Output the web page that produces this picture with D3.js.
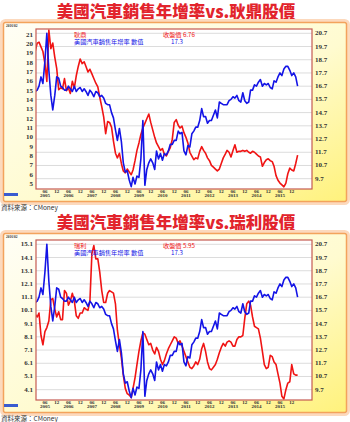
<!DOCTYPE html>
<html>
<head>
<meta charset="utf-8">
<script src="https://cdn.jsdelivr.net/npm/d3@7"></script>
<style>
  body { margin: 0; background: #fff; }
  svg { display: block; }
  .axis-num { font-family: "Liberation Serif", "DejaVu Serif", serif; font-weight: bold; fill: #333; }
  .cjk { font-family: "Noto Sans CJK TC", "Noto Sans CJK SC", sans-serif; }
</style>
</head>
<body>
<svg id="chart" width="350" height="422"></svg>
<script>
// monthly data, 2005-01 .. 2016-03
const startYear = 2005;

// US light vehicle sales (SAAR, millions) - blue, right axis
const carSales = [
  16.3, 16.4, 16.7, 17.4, 16.9, 18.6, 20.7, 17.9, 16.0, 14.9, 16.0, 17.4,
  17.3, 16.7, 16.6, 16.4, 16.4, 16.7, 16.5, 16.3, 16.7, 16.3, 16.5, 16.6,
  16.3, 16.5, 16.3, 16.0, 16.4, 16.2, 15.9, 16.3, 16.2, 15.9, 16.0, 15.8,
  15.4, 15.3, 15.3, 14.7, 14.3, 13.4, 12.6, 13.5, 12.5, 10.9, 10.2, 10.3,
  9.6, 9.1, 9.8, 9.3, 9.9, 9.8, 11.2, 14.1, 9.2, 10.4, 10.9, 11.2,
  10.9, 10.4, 11.8, 11.2, 11.6, 11.1, 11.6, 11.5, 11.8, 12.3, 12.3, 12.6,
  12.6, 13.3, 13.1, 13.2, 11.8, 11.5, 12.2, 12.1, 13.1, 13.3, 13.6, 13.6,
  14.1, 15.0, 14.4, 14.4, 13.9, 14.1, 14.1, 14.5, 14.9, 14.3, 15.5, 15.4,
  15.3, 15.3, 15.3, 15.6, 15.7, 15.9, 15.8, 16.0, 15.6, 15.5, 16.2, 15.6,
  15.4, 15.5, 16.4, 16.4, 16.8, 16.7, 17.0, 17.2, 16.7, 16.9, 16.8, 16.9,
  16.6, 16.5, 17.1, 17.0, 17.4, 17.7, 17.5, 18.0, 18.2, 18.2, 17.9, 17.5,
  17.7, 17.4, 16.7
];

// 耿鼎 close - red, left axis of top chart
const gengDing = [
  19.2, 20.1, 20.2, 19.7, 19.2, 17.9, 16.0, 21.5, 19.5, 20.1, 18.6, 17.4,
  15.1, 15.3, 15.2, 16.3, 15.0, 15.3, 14.7, 16.0, 15.3, 16.6, 17.6, 18.4,
  17.9, 18.1, 17.6, 17.0, 17.3, 16.8, 16.3, 15.8, 15.4, 14.3, 13.3, 12.2,
  10.4, 11.7, 11.6, 11.1, 9.6, 8.3, 7.8, 8.3, 7.2, 6.4, 6.2, 6.6,
  6.3, 6.0, 6.5, 7.5, 8.6, 9.4, 10.3, 11.0, 11.5, 12.0, 12.5, 11.6,
  10.8, 10.0, 9.4, 9.0, 8.6, 8.8, 8.2, 8.0, 8.5, 8.9, 9.8, 11.6,
  11.9, 11.3, 11.0, 11.2, 10.5, 10.0, 9.4, 8.4, 8.0, 7.6, 7.8, 7.7,
  8.5, 9.0, 8.6, 8.3, 7.8, 7.5, 7.0, 6.8, 6.6, 6.4, 6.6, 7.2,
  7.8, 8.2, 8.6, 8.4, 7.9, 8.6, 9.2, 8.4, 8.5, 8.5, 8.6, 8.5,
  8.6, 8.4, 8.3, 8.5, 8.4, 8.2, 8.0, 7.9, 6.9, 7.3, 7.6, 7.7,
  7.5, 7.4, 6.9, 5.9, 5.4, 5.1, 4.9, 4.7, 5.1, 6.1, 6.7, 6.5,
  6.4, 7.2, 8.1
];

// 瑞利 close - red, left axis of bottom chart
const ruiLi = [
  9.8, 9.6, 9.9, 8.2, 7.5, 8.5, 8.8, 9.3, 10.9, 11.0, 10.2, 9.6,
  10.0, 9.4, 9.4, 11.6, 11.4, 10.5, 10.8, 11.4, 10.8, 9.7, 9.5, 9.9,
  9.9, 10.3, 10.2, 10.1, 10.8, 14.4, 15.0, 14.0, 14.0, 13.0, 11.6, 10.7,
  10.7, 11.4, 11.6, 11.5, 11.4, 10.6, 8.6, 7.5, 6.5, 5.2, 4.2, 3.8,
  3.7, 3.5, 4.2, 5.0, 6.0, 7.0, 7.8, 8.4, 8.3, 7.9, 7.5, 7.6,
  7.1, 6.8, 7.3, 7.0, 6.4, 6.0, 6.3, 6.8, 7.2, 7.5, 7.8, 8.1,
  8.0, 7.6, 7.8, 7.4, 7.0, 6.6, 6.2, 5.8, 5.7, 5.9, 6.2, 6.0,
  6.4, 7.2, 7.6, 7.0, 6.2, 5.7, 5.6, 5.8, 6.0, 6.4, 6.9, 7.3,
  7.6, 7.4, 7.7, 7.8, 7.7, 7.4, 7.4, 7.9, 8.1, 8.1, 8.2, 9.5,
  10.6, 10.8, 10.5, 9.6, 8.9, 8.8, 8.7, 8.0, 7.0, 6.0, 5.7, 5.8,
  6.7, 6.6, 6.2, 6.0, 5.3, 4.6, 3.6, 3.4, 4.1, 4.6, 4.7, 6.0,
  5.3, 5.2, 5.2
];

const leftTicksTop = d3.range(21, 4, -1);
const leftTicksBottom = [15.1, 14.1, 13.1, 12.1, 11.1, 10.1, 9.1, 8.1, 7.1, 6.1, 5.1, 4.1];
const rightTicks = [20.7, 19.7, 18.7, 17.7, 16.7, 15.7, 14.7, 13.7, 12.7, 11.7, 10.7, 9.7];
const tickYears = d3.range(2005, 2016);

const RED = '#f01414';
const BLUE = '#1414e6';

const svg = d3.select('#chart');
const defs = svg.append('defs');

const grad = defs.append('linearGradient')
  .attr('id', 'panel-bg')
  .attr('x1', 0).attr('y1', 0).attr('x2', 1).attr('y2', 1);
grad.append('stop').attr('offset', '0%').attr('stop-color', '#fffef6');
grad.append('stop').attr('offset', '55%').attr('stop-color', '#fffbd0');
grad.append('stop').attr('offset', '100%').attr('stop-color', '#fff27c');

const months = carSales.map((_, i) => new Date(startYear, i, 1));

// shared x scale (positions read from the 06/12 labels)
const x = d3.scaleTime()
  .domain([months[0], months[months.length - 1]])
  .range([35.2, 297.6]);

const plot = { left: 36, top: 29, right: 312, bottom: 189 };

function drawPanel(offsetY, cfg, idx) {
  const g = svg.append('g').attr('transform', `translate(0,${offsetY})`);

  // title
  g.append('text')
    .attr('class', 'cjk')
    .attr('x', 176).attr('y', 10.5)
    .attr('text-anchor', 'middle')
    .attr('dominant-baseline', 'central')
    .attr('font-size', 16.5)
    .attr('font-weight', 900)
    .attr('fill', '#e2242c')
    .text(cfg.title);

  // frame
  g.append('rect')
    .attr('x', 1.5).attr('y', 20.5).attr('width', 347).attr('height', 183)
    .attr('rx', 4)
    .attr('fill', 'none').attr('stroke', '#fcd9bd').attr('stroke-width', 3);
  g.append('rect')
    .attr('x', 3.5).attr('y', 22.5).attr('width', 343).attr('height', 179)
    .attr('rx', 2)
    .attr('fill', 'url(#panel-bg)').attr('stroke', '#f3a35c').attr('stroke-width', 1.5);

  // plot box
  g.append('rect')
    .attr('x', plot.left).attr('y', plot.top)
    .attr('width', plot.right - plot.left).attr('height', plot.bottom - plot.top)
    .attr('fill', '#fff');

  const yLeft = d3.scaleLinear().domain(cfg.leftDomain).range(cfg.leftRange);
  const yRight = d3.scaleLinear().domain([9.7, 20.7]).range([178.7, 33.3]);

  // grid
  g.append('g').selectAll('line')
    .data(rightTicks)
    .join('line')
    .attr('x1', plot.left).attr('x2', plot.right)
    .attr('y1', d => yRight(d)).attr('y2', d => yRight(d))
    .attr('stroke', '#dcdcdc').attr('stroke-width', 1);

  // axes labels
  g.append('g').selectAll('text')
    .data(cfg.leftTicks)
    .join('text')
    .attr('class', 'axis-num')
    .attr('x', 33).attr('y', d => yLeft(d))
    .attr('text-anchor', 'end')
    .attr('dominant-baseline', 'central')
    .attr('font-size', 7)
    .text(d => cfg.leftFormat(d));

  g.append('g').selectAll('text')
    .data(rightTicks)
    .join('text')
    .attr('class', 'axis-num')
    .attr('x', 315).attr('y', d => yRight(d))
    .attr('text-anchor', 'start')
    .attr('dominant-baseline', 'central')
    .attr('font-size', 7)
    .text(d => d.toFixed(1));

  // x labels: 06 / 12 and years
  const xt = g.append('g');
  tickYears.forEach(yr => {
    const jun = new Date(yr, 5, 1);
    const dec = new Date(yr, 11, 1);
    xt.append('text').attr('class', 'axis-num')
      .attr('x', x(jun)).attr('y', 192.5)
      .attr('text-anchor', 'middle').attr('font-size', 5).text('06');
    xt.append('text').attr('class', 'axis-num')
      .attr('x', x(jun)).attr('y', 197)
      .attr('text-anchor', 'middle').attr('font-size', 5).text(yr);
    xt.append('text').attr('class', 'axis-num')
      .attr('x', x(dec)).attr('y', 192.5)
      .attr('text-anchor', 'middle').attr('font-size', 5).text('12');
  });

  // clip (in the group's own coordinates)
  const clipId = 'clip' + idx;
  defs.append('clipPath').attr('id', clipId)
    .append('rect')
    .attr('x', plot.left).attr('y', plot.top)
    .attr('width', plot.right - plot.left).attr('height', plot.bottom - plot.top);

  const lines = g.append('g').attr('clip-path', `url(#${clipId})`);

  const redLine = d3.line()
    .x((d, i) => x(months[i]))
    .y(d => yLeft(d));
  const blueLine = d3.line()
    .x((d, i) => x(months[i]))
    .y(d => yRight(d));

  lines.append('path')
    .datum(cfg.stock)
    .attr('d', redLine)
    .attr('fill', 'none').attr('stroke', RED).attr('stroke-width', 1.6)
    .attr('stroke-linejoin', 'round');
  lines.append('path')
    .datum(carSales)
    .attr('d', blueLine)
    .attr('fill', 'none').attr('stroke', BLUE).attr('stroke-width', 1.6)
    .attr('stroke-linejoin', 'round');

  // plot border
  g.append('rect')
    .attr('x', plot.left).attr('y', plot.top)
    .attr('width', plot.right - plot.left).attr('height', plot.bottom - plot.top)
    .attr('fill', 'none').attr('stroke', '#c55a52').attr('stroke-width', 1.2);

  // legend
  const lg = g.append('g').attr('class', 'cjk').attr('font-size', 6.2)
    .attr('dominant-baseline', 'central');
  lg.append('text').attr('x', 74).attr('y', 34.2).attr('fill', RED).text(cfg.stockName);
  lg.append('text').attr('x', 163).attr('y', 34.2).attr('fill', RED).text('收盤價 ' + cfg.lastClose);
  lg.append('text').attr('x', 74).attr('y', 41.4).attr('fill', BLUE).text('美國汽車銷售年增率 數值');
  lg.append('text').attr('x', 171).attr('y', 41.4).attr('fill', BLUE).text('17.3');

  // little date stamp and badge
  g.append('text').attr('class', 'axis-num')
    .attr('x', 6).attr('y', 27).attr('font-size', 3.5).attr('fill', '#555')
    .text('2016/02');
  g.append('rect').attr('x', 4).attr('y', 193).attr('width', 14).attr('height', 3)
    .attr('fill', '#3a5bd0');

  // source
  g.append('text')
    .attr('class', 'cjk')
    .attr('x', 1).attr('y', 209.5)
    .attr('font-size', 6.5).attr('fill', '#333')
    .text('資料來源：CMoney');
}

drawPanel(0, {
  title: '美國汽車銷售年增率vs.耿鼎股價',
  stockName: '耿鼎',
  lastClose: '6.76',
  stock: gengDing,
  leftTicks: leftTicksTop,
  leftDomain: [5, 21],
  leftRange: [184, 34.7],
  leftFormat: d => d
}, 0);

drawPanel(211, {
  title: '美國汽車銷售年增率vs.瑞利股價',
  stockName: '瑞利',
  lastClose: '5.95',
  stock: ruiLi,
  leftTicks: leftTicksBottom,
  leftDomain: [4.1, 15.1],
  leftRange: [178.7, 33.3],
  leftFormat: d => d.toFixed(1)
}, 1);
</script>
</body>
</html>
